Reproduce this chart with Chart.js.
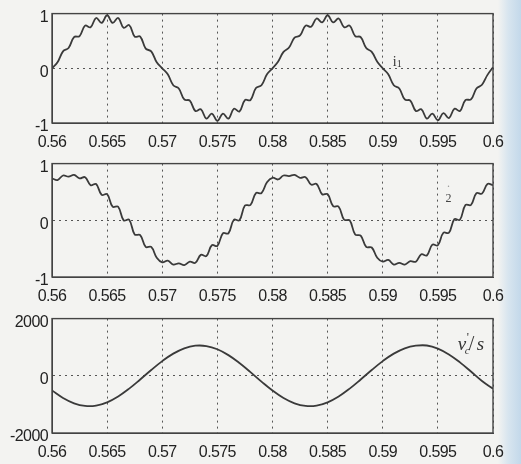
<!DOCTYPE html>
<html>
<head>
<meta charset="utf-8">
<script src="https://cdn.jsdelivr.net/npm/chart.js@4.4.0/dist/chart.umd.min.js"></script>
<style>
  html, body { margin: 0; padding: 0; }
  body {
    width: 521px; height: 464px; overflow: hidden; position: relative;
    background: linear-gradient(to right, #f3f3f1 0px, #f3f3f1 498px, #d8e5ef 508px, #c3d8ea 521px);
  }
  canvas { position: absolute; left: 0; }
</style>
</head>
<body>
<canvas id="c1" width="521" height="150" style="top:0px"></canvas>
<canvas id="c2" width="521" height="155" style="top:150px"></canvas>
<canvas id="c3" width="521" height="159" style="top:305px"></canvas>
<script>
// sample times (s)
const tFine = [0.56, 0.5605, 0.561, 0.5615, 0.562, 0.5625, 0.563, 0.5635, 0.564, 0.5645,
  0.565, 0.5655, 0.566, 0.5665, 0.567, 0.5675, 0.568, 0.5685, 0.569, 0.5695,
  0.57, 0.5705, 0.571, 0.5715, 0.572, 0.5725, 0.573, 0.5735, 0.574, 0.5745,
  0.575, 0.5755, 0.576, 0.5765, 0.577, 0.5775, 0.578, 0.5785, 0.579, 0.5795,
  0.58, 0.5805, 0.581, 0.5815, 0.582, 0.5825, 0.583, 0.5835, 0.584, 0.5845,
  0.585, 0.5855, 0.586, 0.5865, 0.587, 0.5875, 0.588, 0.5885, 0.589, 0.5895,
  0.59, 0.5905, 0.591, 0.5915, 0.592, 0.5925, 0.593, 0.5935, 0.594, 0.5945,
  0.595, 0.5955, 0.596, 0.5965, 0.597, 0.5975, 0.598, 0.5985, 0.599, 0.5995, 0.6];

const tCoarse = [0.56, 0.561, 0.562, 0.563, 0.564, 0.565, 0.566, 0.567, 0.568, 0.569,
  0.57, 0.571, 0.572, 0.573, 0.574, 0.575, 0.576, 0.577, 0.578, 0.579,
  0.58, 0.581, 0.582, 0.583, 0.584, 0.585, 0.586, 0.587, 0.588, 0.589,
  0.59, 0.591, 0.592, 0.593, 0.594, 0.595, 0.596, 0.597, 0.598, 0.599, 0.6];

// i1 current (pu)
const i1 = [0.00, 0.11, 0.31, 0.37, 0.57, 0.59, 0.78, 0.75, 0.92, 0.83,
  0.97, 0.83, 0.92, 0.74, 0.79, 0.58, 0.58, 0.36, 0.31, 0.11,
  0.00, -0.11, -0.31, -0.37, -0.57, -0.59, -0.78, -0.75, -0.92, -0.83,
  -0.96, -0.83, -0.92, -0.74, -0.79, -0.58, -0.58, -0.36, -0.31, -0.11,
  0.00, 0.12, 0.30, 0.38, 0.56, 0.60, 0.78, 0.76, 0.91, 0.84,
  0.97, 0.84, 0.91, 0.75, 0.78, 0.59, 0.57, 0.37, 0.30, 0.12,
  0.00, -0.11, -0.31, -0.37, -0.57, -0.59, -0.78, -0.75, -0.92, -0.83,
  -0.95, -0.82, -0.91, -0.74, -0.78, -0.58, -0.57, -0.37, -0.30, -0.12, 0.02];

// i2 current (pu), middle panel
const i2 = [0.74, 0.71, 0.79, 0.77, 0.80, 0.74, 0.76, 0.62, 0.64, 0.45,
  0.46, 0.24, 0.24, 0.00, 0.01, -0.25, -0.26, -0.47, -0.47, -0.66,
  -0.74, -0.71, -0.78, -0.76, -0.79, -0.73, -0.75, -0.61, -0.63, -0.44,
  -0.45, -0.23, -0.23, 0.01, 0.00, 0.26, 0.27, 0.48, 0.48, 0.67,
  0.75, 0.72, 0.79, 0.78, 0.80, 0.75, 0.76, 0.63, 0.64, 0.46,
  0.46, 0.25, 0.24, 0.01, 0.00, -0.25, -0.27, -0.47, -0.48, -0.66,
  -0.73, -0.70, -0.78, -0.75, -0.78, -0.72, -0.73, -0.60, -0.62, -0.43,
  -0.44, -0.22, -0.22, 0.02, 0.01, 0.27, 0.27, 0.48, 0.47, 0.64, 0.62];

// vc'/s, bottom panel
const vcs = [-514, -775, -961, -1052, -1041, -927, -723, -448, -129, 202,
  514, 775, 961, 1052, 1041, 927, 723, 448, 129, -202,
  -514, -775, -961, -1052, -1041, -927, -723, -448, -129, 202,
  514, 775, 961, 1052, 1060, 950, 745, 470, 150, -180, -450];

const xTicks = [0.56, 0.565, 0.57, 0.575, 0.58, 0.585, 0.59, 0.595, 0.6];
const xTickLabels = ["0.56", "0.565", "0.57", "0.575", "0.58", "0.585", "0.59", "0.595", "0.6"];
const yTicksI = [-1, 0, 1];
const yTicksV = [-2000, 0, 2000];

const ink = "#3a3a3a";
const tickFont = { family: "Liberation Sans", size: 16 };

// tighter letter spacing for the scanned, squeezed-looking tick labels
const tightText = {
  id: "tight",
  beforeDraw(chart) { chart.ctx.letterSpacing = "-0.6px"; }
};

// box around the plot area, like a matlab axes
const boxPlugin = {
  id: "box",
  afterDraw(chart) {
    const { ctx, chartArea: a } = chart;
    ctx.save();
    ctx.strokeStyle = "#444";
    ctx.lineWidth = 1.4;
    ctx.strokeRect(a.left, a.top, a.right - a.left, a.bottom - a.top);
    ctx.restore();
  }
};

function makeChart(id, xs, ys, yTicks, padTop, xAxisH, drawLabel) {
  const pts = xs.map((x, i) => ({ x: x, y: ys[i] }));
  return new Chart(document.getElementById(id), {
    type: "line",
    data: {
      datasets: [{
        data: pts,
        borderColor: ink,
        borderWidth: 1.8,
        pointRadius: 0,
        tension: 0.4,
        fill: false
      }]
    },
    options: {
      responsive: false,
      animation: false,
      devicePixelRatio: 1,
      layout: { padding: { top: padTop, right: 28, left: 0, bottom: 0 } },
      plugins: { legend: { display: false }, tooltip: { enabled: false } },
      scales: {
        x: {
          type: "linear",
          min: 0.56,
          max: 0.6,
          afterBuildTicks: (axis) => { axis.ticks = xTicks.map(v => ({ value: v })); },
          afterFit: (axis) => { axis.height = xAxisH; },
          ticks: {
            autoSkip: false,
            maxRotation: 0,
            padding: 10,
            color: "#222",
            font: tickFont,
            callback: (v, i) => xTickLabels[i]
          },
          grid: { color: "#555", lineWidth: 1, drawTicks: false },
          border: { color: "#444", width: 1, dash: [2, 4] }
        },
        y: {
          min: yTicks[0],
          max: yTicks[yTicks.length - 1],
          afterBuildTicks: (axis) => { axis.ticks = yTicks.map(v => ({ value: v })); },
          afterFit: (axis) => { axis.width = 52; },
          ticks: {
            padding: 4,
            labelOffset: 4,
            color: "#222",
            font: tickFont,
            callback: (v) => String(v)
          },
          grid: { color: "#555", lineWidth: 1, drawTicks: false },
          border: { color: "#444", width: 1, dash: [2, 4] }
        }
      }
    },
    plugins: [tightText, boxPlugin, {
      id: "lbl",
      afterDatasetsDraw(chart) {
        drawLabel(chart.ctx, chart.scales.x, chart.scales.y);
      }
    }]
  });
}

makeChart("c1", tFine, i1, yTicksI, 8, 27, (ctx, x, y) => {
  const px = x.getPixelForValue(0.5909), py = y.getPixelForValue(0.05);
  ctx.save();
  ctx.letterSpacing = "0px";
  ctx.fillStyle = "#333";
  ctx.font = "14px 'Liberation Serif'";
  ctx.fillText("i", px, py);
  ctx.font = "10px 'Liberation Serif'";
  ctx.fillText("1", px + 4, py + 1);
  ctx.restore();
});

makeChart("c2", tFine, i2, yTicksI, 10, 28, (ctx, x, y) => {
  const px = x.getPixelForValue(0.5957), py = y.getPixelForValue(0.33);
  ctx.save();
  ctx.letterSpacing = "0px";
  ctx.fillStyle = "#444";
  ctx.font = "12px 'Liberation Serif'";
  ctx.fillText("2", px, py);
  ctx.fillStyle = "#999";
  ctx.fillText("·", px + 1, py - 12);
  ctx.restore();
});

makeChart("c3", tCoarse, vcs, yTicksV, 10, 31, (ctx, x, y) => {
  const px = x.getPixelForValue(0.5968), py = y.getPixelForValue(900);
  ctx.save();
  ctx.letterSpacing = "0px";
  ctx.fillStyle = "#333";
  ctx.font = "italic 19px 'Liberation Serif'";
  ctx.fillText("v", px, py);
  ctx.font = "12px 'Liberation Serif'";
  ctx.fillText("'", px + 9, py - 9);
  ctx.font = "italic 11px 'Liberation Serif'";
  ctx.fillText("c", px + 7, py + 4);
  ctx.font = "20px 'Liberation Serif'";
  ctx.fillText("/", px + 11, py);
  ctx.font = "italic 19px 'Liberation Serif'";
  ctx.fillText("s", px + 19, py);
  ctx.restore();
});
</script>
</body>
</html>
